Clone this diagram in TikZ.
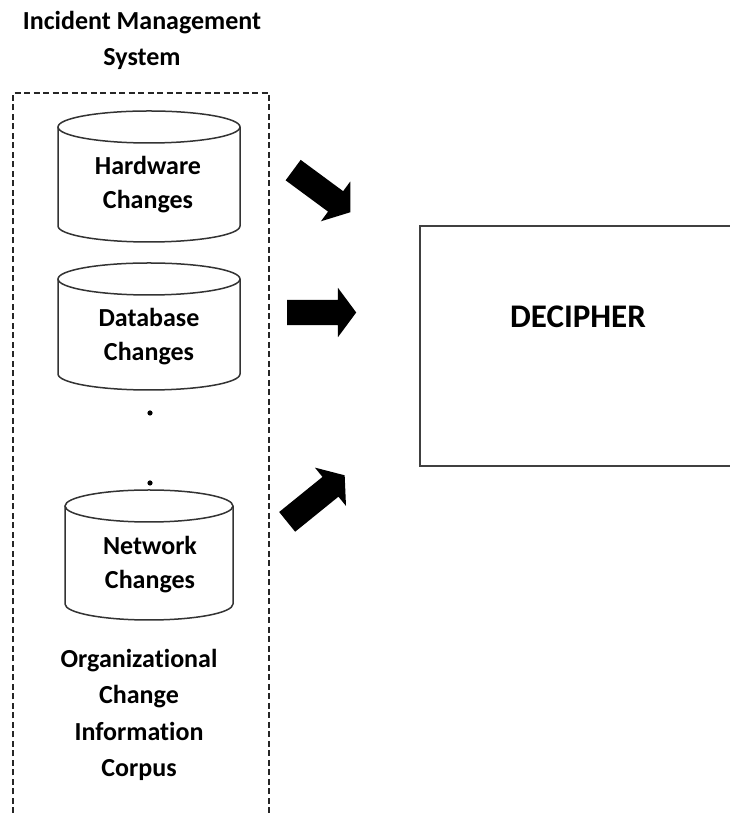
\documentclass[tikz,border=0pt]{standalone}
\usepackage{fontspec}
\setmainfont{Carlito}[Ligatures=NoCommon]
\usetikzlibrary{shapes.arrows}
\tikzset{
  txt/.style={font=\fontsize{26}{36}\selectfont\bfseries, align=center, inner sep=0pt, text=black},
  cyltxt/.style={font=\fontsize{26}{34}\selectfont\bfseries, align=center, inner sep=0pt, text=black},
  cylline/.style={line width=1.5pt, draw=black!80},
  dashbox/.style={line width=1.4pt, draw=black!85, dash pattern=on 6pt off 3.5pt},
  mainbox/.style={line width=1.8pt, draw=black!75},
  blockarrow/.style={single arrow, fill=black, draw=none, inner xsep=0pt, inner ysep=12.5pt,
    single arrow head extend=12pt, single arrow tip angle=107, single arrow head indent=0pt, anchor=tail}
}
\newcommand\mycyl[4]{% left, right, top, bottom
  \draw[cylline] ({(#1+#2)/2},#3-16) ellipse [x radius={(#2-#1)/2}, y radius=16];
  \draw[cylline] (#1,#3-16) -- (#1,#4+16) arc[start angle=180, end angle=360, x radius={(#2-#1)/2}, y radius=16] -- (#2,#3-16);
}
\begin{document}
\begin{tikzpicture}[x=1pt,y=1pt]
\useasboundingbox (0,0) rectangle (730,813);
\clip (0,0) rectangle (730,813);
% title
\node[txt] (title) at (142,773) {Incident Management\\System};
% dashed container
\draw[dashbox] (13,-10) -- (13,720) -- (269,720) -- (269,-10);
% cylinders
\mycyl{58}{240}{702}{571}
\node[cyltxt] (hw) at (148,628.5) {Hardware\\Changes};
\mycyl{58}{240}{550}{423}
\node[cyltxt] (db) at (149,476) {Database\\Changes};
\mycyl{65}{233}{323}{193}
\node[cyltxt] (net) at (150,248.5) {Network\\Changes};
% dots
\fill (150,400) circle (2.6);
\fill (150,330) circle (2.6);
% corpus label
\node[txt, font=\fontsize{26}{36.5}\selectfont\bfseries] (corpus) at (139,98) {Organizational\\Change\\Information\\Corpus};
% DECIPHER box
\node[mainbox, draw, rectangle, minimum width=330pt, minimum height=240pt, anchor=north west] (dec) at (419,588) {};
\node[txt, font=\fontsize{33}{36}\selectfont\bfseries] (dectxt) at (578,496) {DECIPHER};
% block arrows
\node[blockarrow, minimum height=71pt, rotate=-36.4] (a1) at (293,643) {};
\node[blockarrow, minimum height=69pt, rotate=0] (a2) at (287,500.5) {};
\node[blockarrow, minimum height=74pt, rotate=39] (a3) at (287,291) {};
\end{tikzpicture}
\end{document}
